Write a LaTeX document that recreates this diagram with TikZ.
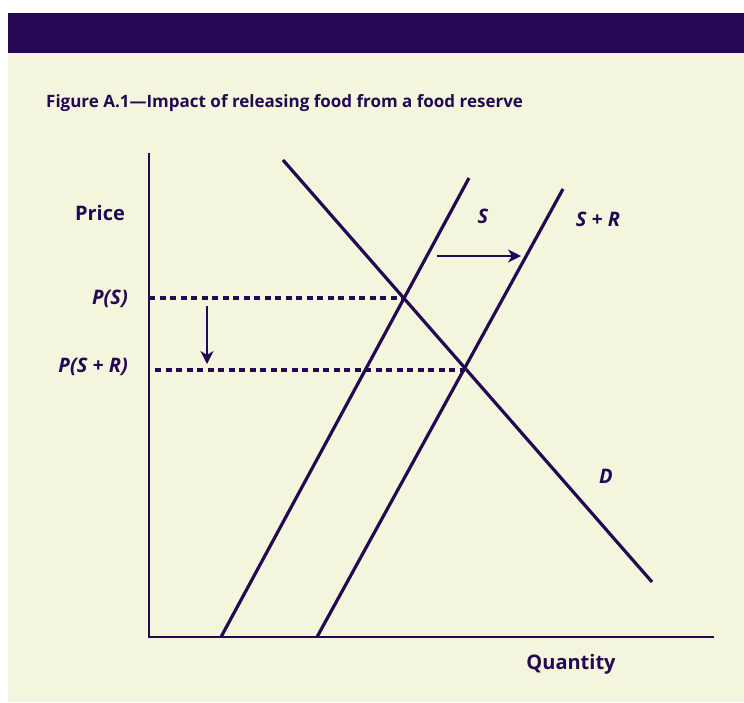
\documentclass[tikz,border=0pt]{standalone}
\usepackage{fontspec}
\setmainfont{Open Sans}
\usetikzlibrary{
  arrows.meta,
  positioning,
  calc
}
\definecolor{ReserveInk}{RGB}{37,8,84}
\definecolor{ReserveCream}{RGB}{243,246,220}
\tikzset{
  axisline/.style={draw=ReserveInk,line width=2pt},
  curveline/.style={draw=ReserveInk,line width=3.2pt},
  priceline/.style={draw=ReserveInk,line width=3.4pt,dash pattern=on 6pt off 4.5pt},
  shiftarrow/.style={-{Stealth[length=13pt,width=13pt,inset=4pt]},draw=ReserveInk,line width=1.8pt},
  titletext/.style={text=ReserveInk,font=\bfseries\fontsize{17}{20}\selectfont,inner sep=0pt},
  axislabel/.style={text=ReserveInk,font=\bfseries\fontsize{20}{23}\selectfont,inner sep=0pt},
  curvelabel/.style={text=ReserveInk,font=\bfseries\itshape\fontsize{20}{23}\selectfont,inner sep=0pt}
}

\begin{document}
\begin{tikzpicture}[x=1pt,y=-1pt]
\useasboundingbox (0,0) rectangle (744,702);
\fill[white] (0,0) rectangle (744,702);
\fill[ReserveCream] (8,53) rectangle (744,702);
\fill[ReserveInk] (8,13) rectangle (744,53);
\node[titletext,anchor=west] (title) at (46,103) {Figure A.1---Impact of releasing food from a food reserve};
% axes
\coordinate (origin) at (149,637);
\coordinate (ytop) at (149,153);
\coordinate (xend) at (714,637);
\draw[axisline] (ytop) -- (origin) -- (xend);
\node[axislabel] (price) at (100,213) {Price};
\node[axislabel] (quantity) at (571,664) {Quantity};
% supply and demand
\coordinate (s0) at (221,637);
\coordinate (s1) at (469,178);
\coordinate (sr0) at (317,637);
\coordinate (sr1) at (563,189);
\coordinate (d0) at (283,160);
\coordinate (d1) at (652,582);
\draw[curveline] (s0) -- (s1);
\draw[curveline] (sr0) -- (sr1);
\draw[curveline] (d0) -- (d1);
\node[curvelabel] (slab) at (483,216) {S};
\node[curvelabel] (srlab) at (598,219) {S + R};
\node[curvelabel] (dlab) at (606,476) {D};
% equilibrium prices
\coordinate (eqs) at (404,298);
\coordinate (eqsr) at (465,370);
\coordinate (psr0) at (155,370);
\draw[priceline] (origin |- eqs) -- (eqs);
\draw[priceline] (psr0) -- (eqsr);
\node[curvelabel,anchor=east] (ps) at (128,299) {P(S)};
\node[curvelabel,anchor=east] (psr) at (128,367) {P(S + R)};
% shifts
\coordinate (shiftA) at (437,256);
\coordinate (shiftB) at (521,256);
\coordinate (dropA) at (207,306);
\coordinate (dropB) at (207,364);
\draw[shiftarrow] (shiftA) -- (shiftB);
\draw[shiftarrow] (dropA) -- (dropB);
\end{tikzpicture}
\end{document}
